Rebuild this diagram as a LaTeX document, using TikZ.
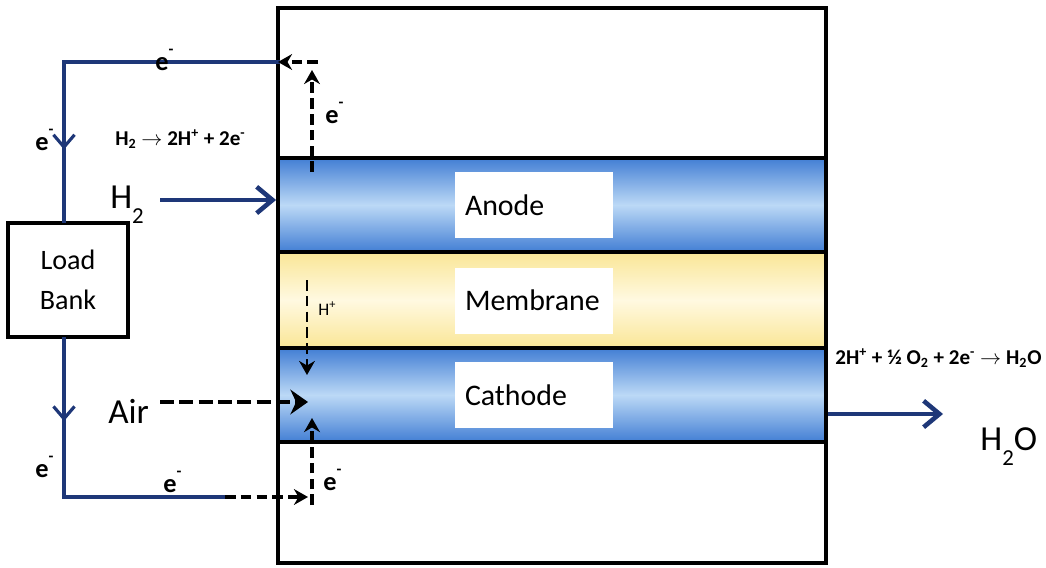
\documentclass[tikz,border=0pt]{standalone}
\usepackage{fontspec}
\setmainfont{Carlito}
\usetikzlibrary{arrows.meta,decorations.markings}
\definecolor{wireblue}{RGB}{30,55,120}
\definecolor{banddark}{RGB}{66,126,212}
\definecolor{bandlight}{RGB}{188,217,246}
\definecolor{membdark}{RGB}{250,230,150}
\definecolor{memblight}{RGB}{255,249,225}
\newcommand{\eminus}{e\raisebox{1.2ex}{\fontsize{9}{9}\selectfont -}}
\newcommand{\lowsub}[1]{\raisebox{-0.45em}{\fontsize{13}{13}\selectfont #1}}

\begin{document}
\begin{tikzpicture}[
    % Styles
    band/.style={draw, line width=2.2pt, minimum width=10.96cm, minimum height=1.88cm,
        top color=banddark, bottom color=banddark, middle color=bandlight},
    membfill/.style={draw, line width=2.2pt, minimum width=10.96cm, minimum height=1.92cm,
        top color=membdark, bottom color=membdark, middle color=memblight},
    labelbox/.style={fill=white, minimum width=3.16cm, minimum height=1.32cm, inner xsep=0.2cm,
        text width=2.76cm, align=left, font=\fontsize{17}{20}\selectfont},
    wire/.style={draw=wireblue, line width=2pt, line cap=rect},
    midarrow/.style={postaction={decorate, decoration={markings,
        mark=at position #1 with {\arrow{Straight Barb[length=7pt, width=12pt, line width=1.8pt]}}}}},
    feed/.style={draw=wireblue, line width=2.8pt, -{Straight Barb[length=9pt, width=15pt, line width=2.6pt]}},
    eflow/.style={draw=black, line width=2pt, dash pattern=on 6pt off 3pt, -{Stealth[length=8pt, width=9pt]}},
    elabel/.style={anchor=base west, inner sep=0pt, font=\fontsize{15}{18}\selectfont\bfseries},
    rxn/.style={anchor=base west, inner sep=0pt, font=\fontsize{12}{14}\selectfont\bfseries},
    gas/.style={anchor=base west, inner sep=0pt, font=\fontsize{20}{24}\selectfont}
]
\useasboundingbox (0,0) rectangle (20.92,-11.34);

% --- Cell layers ---
\node[band] (anode) at (11.04,-4.10) {};
\node[membfill] (membrane) at (11.04,-6.0) {};
\node[band] (cathode) at (11.04,-7.9) {};
\node[draw, line width=2.2pt, minimum width=10.96cm, minimum height=11.1cm] (cell) at (11.04,-5.71) {};

% --- Layer names ---
\node[labelbox] (anodetext) at (10.68,-4.10) {Anode};
\node[labelbox] (membranetext) at (10.68,-6.01) {Membrane};
\node[labelbox] (cathodetext) at (10.68,-7.9) {Cathode};

% --- Load bank ---
\node[draw, line width=2.2pt, minimum width=2.4cm, minimum height=2.28cm, align=center,
    font=\fontsize{16}{23}\selectfont] (load) at (1.36,-5.6) {Load\\Bank};

% --- External circuit ---
\coordinate (wTL) at (1.28,-1.24);
\coordinate (wTR) at (5.56,-1.24);
\coordinate (wBL) at (1.28,-9.94);
\coordinate (wBM) at (4.5,-9.94);
\coordinate (wBR) at (6.16,-9.94);
\draw[wire] (wTR) -- (wTL);
\draw[wire, midarrow=0.55] (wTL) -- (wTL |- load.north);
\draw[wire, midarrow=0.52] (wBL |- load.south) -- (wBL);
\draw[wire] (wBL) -- (wBM);

% --- Electron flow at the electrodes ---
\coordinate (eAbot) at (6.24,-3.44);
\coordinate (eAtop) at (6.24,-1.40);
\coordinate (eAcorner) at (6.36,-1.24);
\draw[eflow] (eAbot) -- (eAtop);
\draw[eflow] (eAcorner) -- (wTR);
\coordinate (eCbot) at (6.24,-10.1);
\coordinate (eCtop) at (6.24,-8.36);
\draw[eflow] (wBM) -- (wBR);
\draw[eflow] (eCbot) -- (eCtop);

% --- Proton flow ---
\coordinate (hpTop) at (6.14,-5.6);
\coordinate (hpBot) at (6.14,-7.5);
\draw[eflow, line width=1.6pt] (hpTop) -- (hpBot);

% --- Gas feeds ---
\coordinate (h2S) at (3.2,-4.0);
\draw[feed] (h2S) -- (h2S -| cell.west);
\coordinate (airS) at (3.2,-8.04);
\coordinate (airE) at (6.16,-8.04);
\draw[eflow, line width=2.6pt, dash pattern=on 8pt off 3pt, -{Stealth[length=10pt, width=14pt]}] (airS) -- (airE);
\coordinate (h2oE) at (18.86,-8.28);
\draw[feed] (h2oE -| cell.east) -- (h2oE);

% --- Labels ---
\node[elabel] (eTop) at (3.1,-1.40) {\eminus};
\node[elabel] (eLeftTop) at (0.70,-3.0) {\eminus};
\node[elabel] (eAnode) at (6.5,-2.46) {\eminus};
\node[elabel] (eLeftBot) at (0.70,-9.54) {\eminus};
\node[elabel] (eBot) at (3.26,-9.84) {\eminus};
\node[elabel] (eCathode) at (6.46,-9.8) {\eminus};
\node[anchor=base west, inner sep=0pt, font=\fontsize{10}{12}\selectfont] (hplus) at (6.36,-6.3) {H\textsuperscript{+}};
\node[gas] (h2) at (2.2,-4.16) {H\lowsub{2}};
\node[gas] (air) at (2.16,-8.46) {Air};
\node[gas] (h2o) at (19.6,-9.0) {H\lowsub{2}O};
\node[rxn] (anoderxn) at (2.3,-2.9) {H\textsubscript{2} $\rightarrow$ 2H\textsuperscript{+} + 2e\textsuperscript{-}};
\node[rxn] (cathoderxn) at (16.7,-7.28) {2H\textsuperscript{+} + ½ O\textsubscript{2} + 2e\textsuperscript{-} $\rightarrow$ H\textsubscript{2}O};

\end{tikzpicture}
\end{document}
